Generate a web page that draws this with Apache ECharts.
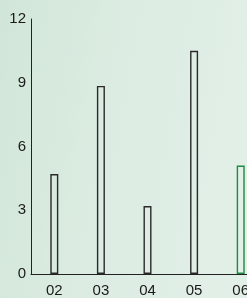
<!DOCTYPE html>
<html>
<head>
<meta charset="utf-8">
<script src="https://cdn.jsdelivr.net/npm/echarts@6/dist/echarts.min.js"></script>
<style>
  html, body { margin: 0; padding: 0; overflow: hidden; width: 247px; height: 298px; }
  body { background: linear-gradient(100deg, #d1e6d8 0%, #dcece2 45%, #e3f0e8 100%); }
  /* chart is wider than the window: the last category is cut off as in the reference */
  #chart { width: 264px; height: 298px; }
</style>
</head>
<body>
<div id="chart"></div>
<script>
const categories = ['02', '03', '04', '05', '06']
const values = [4.7, 8.85, 3.2, 10.5, 5.1]
const highlightIndex = 4 // last bar drawn in green
const yTicks = [0, 3, 6, 9, 12]

const chart = echarts.init(document.getElementById('chart'))

const seriesData = values.map((v, i) => ({
  value: v,
  itemStyle: i === highlightIndex
    ? { borderColor: '#1e8a45' }
    : {}
}))

chart.setOption({
  animation: false,
  grid: {
    left: 31,
    right: 0,
    top: 19,
    bottom: 23,
    containLabel: false
  },
  xAxis: {
    type: 'category',
    data: categories,
    axisTick: { show: false },
    axisLine: { lineStyle: { color: '#222', width: 1 } },
    axisLabel: {
      color: '#1a1a1a',
      fontFamily: 'Liberation Sans',
      fontSize: 15,
      margin: 9
    }
  },
  yAxis: {
    type: 'value',
    min: yTicks[0],
    max: yTicks[yTicks.length - 1],
    interval: 3,
    splitLine: { show: false },
    axisTick: { show: false },
    axisLine: { show: true, lineStyle: { color: '#222', width: 1 } },
    axisLabel: {
      color: '#1a1a1a',
      fontFamily: 'Liberation Sans',
      fontSize: 15,
      margin: 5
    }
  },
  series: [
    {
      type: 'bar',
      data: seriesData,
      barWidth: 8,
      itemStyle: {
        color: 'rgba(0,0,0,0)',
        borderColor: '#2a2a2a',
        borderWidth: 1.4
      }
    }
  ]
})
</script>
</body>
</html>
